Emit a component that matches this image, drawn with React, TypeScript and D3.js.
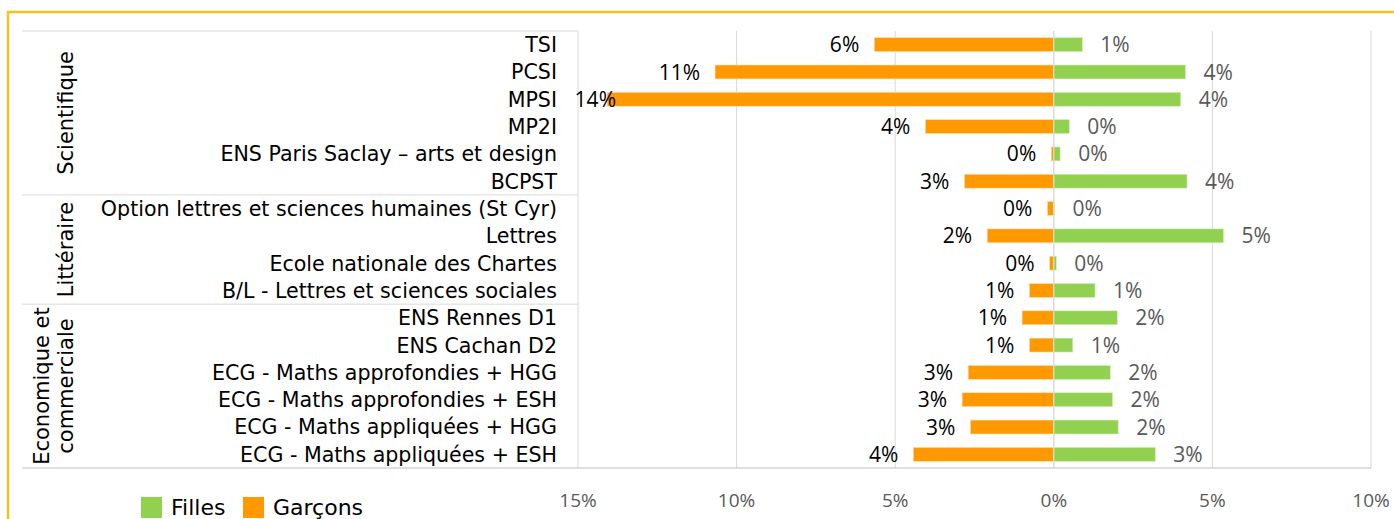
import React from "react";
import * as d3 from "d3";

const categories = [
  "TSI",
  "PCSI",
  "MPSI",
  "MP2I",
  "ENS Paris Saclay – arts et design",
  "BCPST",
  "Option lettres et sciences humaines (St Cyr)",
  "Lettres",
  "Ecole nationale des Chartes",
  "B/L - Lettres et sciences sociales",
  "ENS Rennes D1",
  "ENS Cachan D2",
  "ECG - Maths approfondies + HGG",
  "ECG - Maths approfondies + ESH",
  "ECG - Maths appliquées + HGG",
  "ECG - Maths appliquées + ESH",
];

// % values
const filles = [0.9, 4.15, 4.0, 0.49, 0.2, 4.2, 0.02, 5.35, 0.08, 1.3, 2.0, 0.6, 1.78, 1.85, 2.03, 3.2];
const garcons = [5.66, 10.68, 14.08, 4.05, 0.08, 2.82, 0.2, 2.1, 0.13, 0.77, 1.0, 0.77, 2.7, 2.89, 2.63, 4.43];

const groups = [
  { lines: ["Scientifique"], from: 0, to: 6 },
  { lines: ["Littéraire"], from: 6, to: 10 },
  { lines: ["Economique et", "commerciale"], from: 10, to: 16 },
];

const ticks = [-15, -10, -5, 0, 5, 10];

const GREEN = "#92D050";
const ORANGE = "#FF9900";
const LABEL_FONT = "'DejaVu Sans', sans-serif";
const NUM_FONT = "'Open Sans', 'Noto Sans', sans-serif";

export default function App() {
  const width = 1394;
  const height = 519;
  const left = 578;
  const right = 1371;
  const top = 31;
  const bottom = 468;
  const tableLeft = 22;

  const x = d3.scaleLinear().domain([-15, 10]).range([left, right]);
  const y = d3.scaleBand().domain(categories).range([top, bottom]).paddingInner(0.49).paddingOuter(0.245);
  const bw = y.bandwidth();
  const step = y.step();
  const edge = (i) => top + i * step;

  return (
    <svg
      width={width}
      height={height}
      style={{ position: "absolute", left: 0, top: 0, background: "#fff" }}
    >
      {/* yellow frame */}
      <path d={`M8,${height + 5} L8,12 L${width + 5},12`} fill="none" stroke="#F6C21C" strokeWidth={2.5} />

      {/* gridlines */}
      {ticks.map((t) => (
        <line key={t} x1={x(t)} x2={x(t)} y1={top} y2={bottom} stroke="#d9d9d9" strokeWidth={1} />
      ))}

      {/* group separators */}
      {groups.map((g) => (
        <line key={g.from} x1={tableLeft} x2={left} y1={edge(g.from)} y2={edge(g.from)} stroke="#d9d9d9" />
      ))}
      <line x1={tableLeft} x2={right} y1={bottom} y2={bottom} stroke="#bfbfbf" />

      {/* group labels */}
      {groups.map((g) => {
        const cy = (edge(g.from) + edge(g.to)) / 2;
        const n = g.lines.length;
        return g.lines.map((ln, k) => (
          <text
            key={ln}
            transform={`translate(${66 - (n - 1 - k) * 24}, ${cy}) rotate(-90)`}
            textAnchor="middle"
            dy="0.35em"
            fontFamily={LABEL_FONT}
            fontSize={21}
            fill="#000"
          >
            {ln}
          </text>
        ));
      })}

      {/* category labels */}
      {categories.map((c) => (
        <text key={c} x={557} y={y(c) + bw / 2} dy="0.36em" textAnchor="end" fontFamily={LABEL_FONT} fontSize={20.6} fill="#000">
          {c}
        </text>
      ))}

      {/* bars */}
      {categories.map((c, i) => (
        <g key={c}>
          <rect x={x(-garcons[i])} y={y(c)} width={x(0) - x(-garcons[i])} height={bw} fill={ORANGE} stroke="#ffe0b3" strokeWidth={0.6} />
          <rect x={x(0)} y={y(c)} width={x(filles[i]) - x(0)} height={bw} fill={GREEN} stroke="#d6efc0" strokeWidth={0.6} />
        </g>
      ))}
      <line x1={x(0)} x2={x(0)} y1={top} y2={bottom} stroke="#d9d9d9" />

      {/* value labels */}
      {categories.map((c, i) => {
        const lx = Math.max(x(-garcons[i]) - 15, 616);
        return (
          <g key={c} fontFamily={NUM_FONT} fontSize={21}>
            <text x={lx} y={y(c) + bw / 2} dy="0.36em" textAnchor="end" fill="#000">
              {Math.round(garcons[i])}%
            </text>
            <text x={x(filles[i]) + 18} y={y(c) + bw / 2} dy="0.36em" textAnchor="start" fill="#595959">
              {Math.round(filles[i])}%
            </text>
          </g>
        );
      })}

      {/* x axis tick labels */}
      {ticks.map((t) => (
        <text key={t} x={x(t)} y={500} dy="0.36em" textAnchor="middle" fontFamily={NUM_FONT} fontSize={19} fill="#595959">
          {Math.abs(t)}%
        </text>
      ))}

      {/* legend */}
      <g fontFamily={LABEL_FONT} fontSize={22} fill="#000">
        <rect x={141} y={497} width={21} height={21} fill={GREEN} />
        <text x={171} y={507.5} dy="0.36em">Filles</text>
        <rect x={243} y={497} width={21} height={21} fill={ORANGE} />
        <text x={273} y={507.5} dy="0.36em">Garçons</text>
      </g>
    </svg>
  );
}
